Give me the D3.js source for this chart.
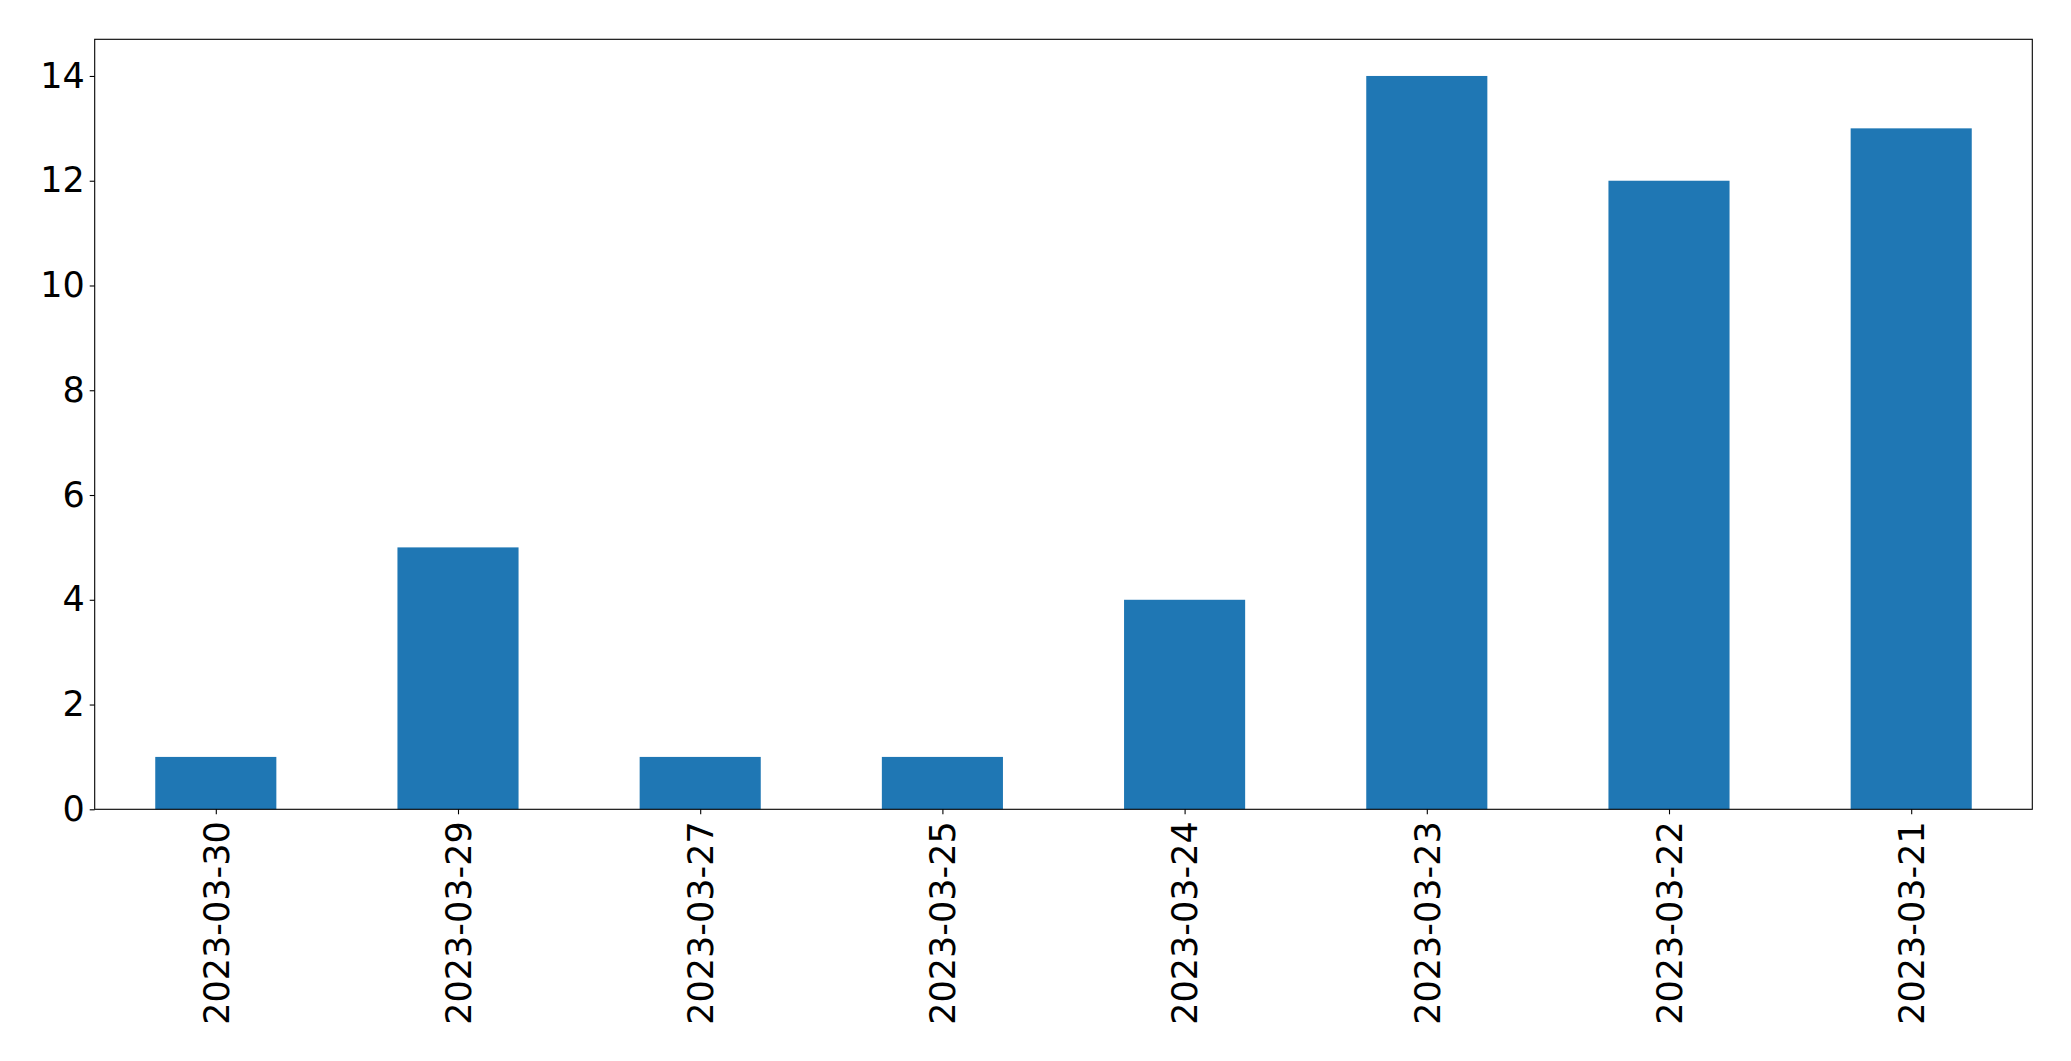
<!DOCTYPE html>
<html>
<head>
<meta charset="utf-8">
<script src="https://cdn.jsdelivr.net/npm/d3@7"></script>
<style>
  html, body { margin: 0; padding: 0; background: #fff; }
  svg { display: block; }
  text { font-family: "DejaVu Sans", sans-serif; }
</style>
</head>
<body>
<svg id="chart" width="2071" height="1061"></svg>
<script>
const categories = ["2023-03-30", "2023-03-29", "2023-03-27", "2023-03-25", "2023-03-24", "2023-03-23", "2023-03-22", "2023-03-21"];
const values = [1, 5, 1, 1, 4, 14, 12, 13];
const yTicks = [0, 2, 4, 6, 8, 10, 12, 14];

const W = 2071, H = 1061;
const margin = {left: 94.7, right: W - 2032.3, top: 39.3, bottom: H - 809.3};
const innerW = W - margin.left - margin.right;
const innerH = H - margin.top - margin.bottom;
const fontSize = 35;

const svg = d3.select("#chart");
const g = svg.append("g").attr("transform", `translate(${margin.left},${margin.top})`);

// pandas-style: positions 0..n-1, xlim (-0.5, n-0.5), bar width 0.5
const n = categories.length;
const x = d3.scaleLinear().domain([-0.5, n - 0.5]).range([0, innerW]);
const y = d3.scaleLinear().domain([0, d3.max(values) * 1.05]).range([innerH, 0]);

g.selectAll("rect.bar")
  .data(values)
  .join("rect")
  .attr("class", "bar")
  .attr("x", (d, i) => x(i - 0.25))
  .attr("width", (d, i) => x(i + 0.25) - x(i - 0.25))
  .attr("y", d => y(d))
  .attr("height", d => innerH - y(d))
  .attr("fill", "#1f77b4");

// Y axis
const yAxis = d3.axisLeft(y).tickValues(yTicks).tickFormat(d3.format("d")).tickSize(5).tickPadding(5);
const yg = g.append("g").call(yAxis);
yg.select(".domain").remove();
yg.selectAll("line").attr("stroke", "#000").attr("stroke-width", 1.1);
yg.selectAll("text").attr("font-size", fontSize).attr("fill", "#000").attr("font-family", "DejaVu Sans, sans-serif");

// X axis
const xAxis = d3.axisBottom(x).tickValues(d3.range(n)).tickFormat(i => categories[i]).tickSize(5).tickPadding(5);
const xg = g.append("g").attr("transform", `translate(0,${innerH})`).call(xAxis);
xg.select(".domain").remove();
xg.selectAll("line").attr("stroke", "#000").attr("stroke-width", 1.1);
xg.selectAll("text")
  .attr("font-size", fontSize)
  .attr("fill", "#000")
  .attr("font-family", "DejaVu Sans, sans-serif")
  .attr("text-anchor", "end")
  .attr("x", 0).attr("y", 0).attr("dy", "0.35em")
  .attr("transform", "translate(0,12) rotate(-90)");

// Frame
g.append("rect")
  .attr("x", 0).attr("y", 0)
  .attr("width", innerW).attr("height", innerH)
  .attr("fill", "none").attr("stroke", "#000").attr("stroke-width", 1.1);
</script>
</body>
</html>
